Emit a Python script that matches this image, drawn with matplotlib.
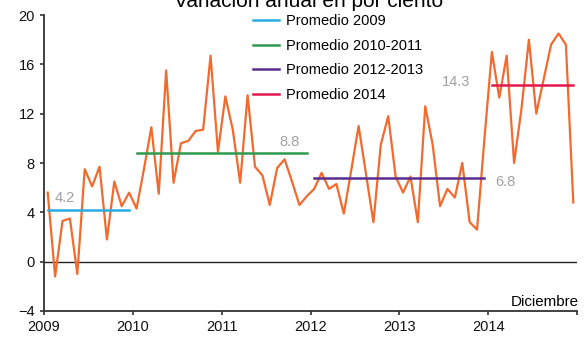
import numpy as np
import matplotlib
matplotlib.use("Agg")
from matplotlib import pyplot as plt

plt.rcParams['font.family'] = ['Liberation Sans', 'DejaVu Sans']

# variacion anual mensual, ene 2009 - dic 2014
var_2009 = [5.6, -1.2, 3.3, 3.5, -1.0, 7.5, 6.1, 7.7, 1.8, 6.5, 4.5, 5.6]
var_2010 = [4.3, 7.5, 10.9, 5.5, 15.5, 6.4, 9.6, 9.8, 10.6, 10.7, 16.7, 8.9]
var_2011 = [13.4, 10.7, 6.4, 13.5, 7.7, 7.0, 4.6, 7.6, 8.3, 6.5, 4.6, 5.3]
var_2012 = [5.9, 7.2, 5.9, 6.3, 3.9, 7.4, 11.0, 7.1, 3.2, 9.5, 11.8, 6.9]
var_2013 = [5.6, 6.9, 3.2, 12.6, 9.5, 4.5, 5.9, 5.2, 8.0, 3.2, 2.6, 10.0]
var_2014 = [17.0, 13.3, 16.7, 8.0, 12.4, 18.0, 12.0, 14.8, 17.6, 18.5, 17.6, 4.8]
variacion = var_2009 + var_2010 + var_2011 + var_2012 + var_2013 + var_2014

# promedios por periodo
prom_labels = ['Promedio 2009', 'Promedio 2010-2011', 'Promedio 2012-2013', 'Promedio 2014']
prom_inicio = [2009, 2010, 2012, 2014]
prom_fin = [2009, 2011, 2013, 2014]
prom_valor = [4.2, 8.8, 6.8, 14.3]
prom_color = ['#29ABE2', '#2E9A4E', '#5B2D8E', '#E5174F']
prom_text_pos = [(2009.23, 5.2), (2011.76, 9.7), (2014.19, 6.5), (2013.64, 14.6)]

years = [2009, 2010, 2011, 2012, 2013, 2014]

x = 2009 + (np.arange(len(variacion)) + 0.5) / 12

fig = plt.figure(figsize=(5.84, 3.38), dpi=100)
ax = fig.add_axes([44 / 584, 1 - 311 / 338, 533 / 584, 296 / 338])

ax.axhline(0, color='#222222', lw=1.0, zorder=1)
ax.plot(x, variacion, color='#F26A2E', lw=1.6, zorder=2)

handles = []
for lab, a, b, v, c, (tx, ty) in zip(prom_labels, prom_inicio, prom_fin, prom_valor,
                                       prom_color, prom_text_pos):
    h, = ax.plot([a + 0.5 / 12, b + 11.5 / 12], [v, v], color=c, lw=1.8, zorder=3, label=lab)
    handles.append(h)
    ax.text(tx, ty, f'{v:.1f}', color='#A0A0A0', fontsize=10.5, ha='center', va='center')

ax.set_xlim(2009, 2015)
ax.set_ylim(-4, 20)
ax.set_yticks(range(-4, 21, 4))
ax.set_xticks(years + [2015])
ax.set_xticklabels([str(y) for y in years] + [''])
ax.tick_params(axis='both', labelsize=10.5, length=3, width=1.2, color='#333333',
               labelcolor='#111111')
for s in ['top', 'right']:
    ax.spines[s].set_visible(False)
for s in ['left', 'bottom']:
    ax.spines[s].set_linewidth(1.3)
    ax.spines[s].set_color('#333333')

ax.legend(handles=handles, loc='upper left', bbox_to_anchor=(0.392, 1.003), frameon=False,
          fontsize=10.5, handlelength=1.8, handletextpad=0.45, labelspacing=0.72,
          borderpad=0, borderaxespad=0)

fig.text(309 / 584, 1 - 7 / 338, 'Variación anual en por ciento', fontsize=15,
         ha='center', va='baseline')
fig.text(579 / 584, 1 - 306 / 338, 'Diciembre', fontsize=10.9, ha='right', va='baseline')

fig.savefig('out.png', dpi=100)
